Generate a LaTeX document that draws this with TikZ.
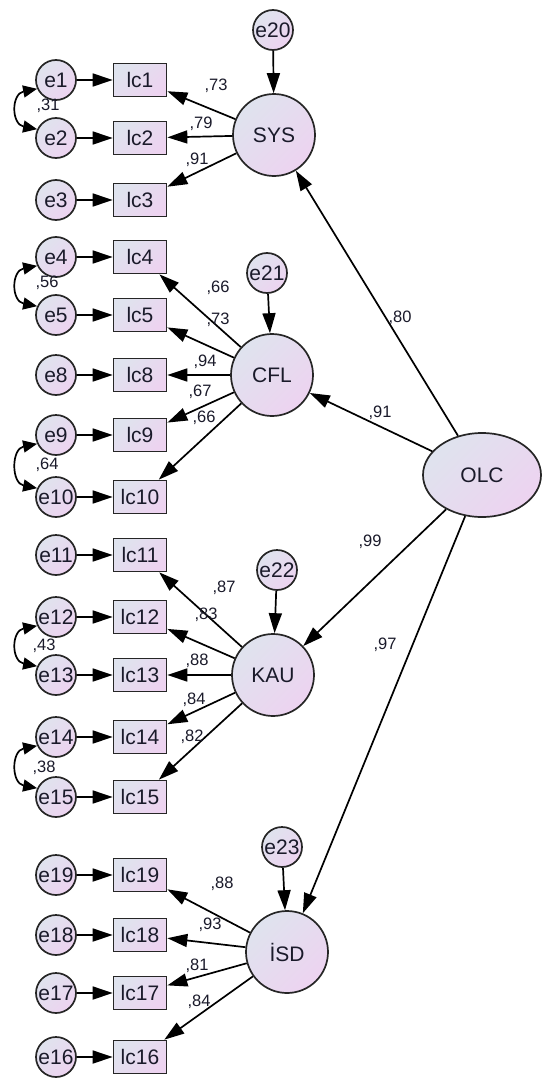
\documentclass[tikz,border=0pt]{standalone}
\usepackage{fontspec}
\setmainfont{Liberation Sans}
\usetikzlibrary{arrows.meta,shapes.geometric}
\definecolor{shadeA}{HTML}{DFE3EE}
\definecolor{shadeB}{HTML}{EDD3F0}
\definecolor{inkc}{HTML}{1A1A2A}
\tikzset{
  lbl/.style={font=\fontsize{21}{24}\selectfont, text=inkc},
  filled/.style={draw=black!85, line width=1.7pt, top color=shadeA, bottom color=shadeB, shading angle=45},
  errc/.style={filled, lbl, circle, minimum size=40pt, inner sep=0pt},
  obs/.style={filled, lbl, rectangle, minimum width=53pt, minimum height=33pt, inner sep=0pt},
  lat/.style={filled, lbl, circle, minimum size=82pt, inner sep=0pt},
  hub/.style={filled, lbl, ellipse, minimum width=118pt, minimum height=84pt, inner sep=0pt},
  coef/.style={font=\fontsize{16.5}{18}\selectfont, text=inkc, inner sep=0pt},
  path/.style={line width=1.7pt, -{Triangle[length=20pt,width=13pt]}},
  cov/.style={line width=1.7pt, {Triangle[length=14pt,width=12pt]}-{Triangle[length=14pt,width=12pt]}}
}
\begin{document}
\begin{tikzpicture}[x=1pt,y=-1pt]
\useasboundingbox (0,0) rectangle (542,1081);

% error terms and indicators
\foreach \n/\y in {1/80,2/138,3/200,4/257,5/315,8/375,9/435,10/497,
                   11/555,12/617,13/675,14/737,15/797,19/875,18/935,17/993,16/1057}{
  \node[errc] (e\n) at (56,\y) {e\n};
  \node[obs] (lc\n) at (140,\y) {lc\n};
  \draw[path] (e\n) -- (lc\n);
}

% first-order factors
\node[lat] (SYS) at (274,135) {SYS};
\node[lat] (CFL) at (272,375) {CFL};
\node[lat] (KAU) at (273,675) {KAU};
\node[lat] (ISD) at (287,952) {İSD};
\node[hub] (OLC) at (482,475) {OLC};

% disturbances
\node[errc] (e20) at (273,30) {e20};
\node[errc] (e21) at (267,273) {e21};
\node[errc] (e22) at (277,570) {e22};
\node[errc] (e23) at (282,847) {e23};
\draw[path] (e20) -- (SYS);
\draw[path] (e21) -- (CFL);
\draw[path] (e22) -- (KAU);
\draw[path] (e23) -- (ISD);

% loadings
\foreach \f/\list in {SYS/{1,2,3},CFL/{4,5,8,9,10},KAU/{11,12,13,14,15},ISD/{19,18,17,16}}{
  \foreach \i in \list { \draw[path] (\f) -- (lc\i); }
}

% second-order paths
\draw[path] (OLC) -- (SYS);
\draw[path] (OLC) -- (CFL);
\draw[path] (OLC) -- (KAU);
\draw[path] (OLC) -- (ISD);

% error covariances
\foreach \a/\b in {1/2,4/5,9/10,12/13,14/15}{
  \draw[cov] (e\a.205) .. controls +(-26,5) and +(-26,-5) .. (e\b.155);
}

% estimates
\node[coef] (k1) at (216,86) {,73};
\node[coef] (k2) at (201,124) {,79};
\node[coef] (k3) at (197,160) {,91};
\node[coef] (r1) at (48,106) {,31};
\node[coef] (k4) at (218,288) {,66};
\node[coef] (k5) at (218,320) {,73};
\node[coef] (k8) at (205,362) {,94};
\node[coef] (k9) at (200,392) {,67};
\node[coef] (k10) at (204,418) {,66};
\node[coef] (r2) at (47,283) {,56};
\node[coef] (r3) at (47,465) {,64};
\node[coef] (k11) at (224,588) {,87};
\node[coef] (k12) at (206,615) {,83};
\node[coef] (k13) at (197,661) {,88};
\node[coef] (k14) at (194,700) {,84};
\node[coef] (k15) at (192,737) {,82};
\node[coef] (r4) at (44,646) {,43};
\node[coef] (r5) at (44,768) {,38};
\node[coef] (k19) at (222,884) {,88};
\node[coef] (k18) at (210,925) {,93};
\node[coef] (k17) at (197,966) {,81};
\node[coef] (k16) at (199,1002) {,84};
\node[coef] (g1) at (400,318) {,80};
\node[coef] (g2) at (380,413) {,91};
\node[coef] (g3) at (370,542) {,99};
\node[coef] (g4) at (385,645) {,97};
\end{tikzpicture}
\end{document}
